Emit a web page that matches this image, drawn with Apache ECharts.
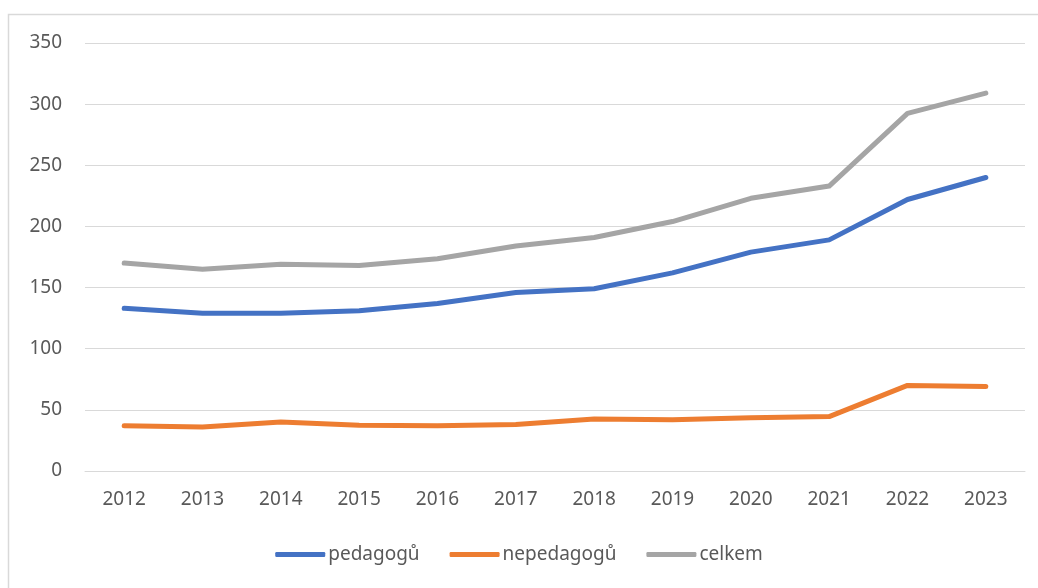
<!DOCTYPE html>
<html>
<head>
<meta charset="utf-8">
<script src="https://cdn.jsdelivr.net/npm/echarts@6/dist/echarts.min.js"></script>
<style>
  html, body { margin: 0; padding: 0; background: #fff; }
  #chart { width: 1038px; height: 588px; }
</style>
</head>
<body>
<div id="chart"></div>
<script>
// roky
var years = ['2012', '2013', '2014', '2015', '2016', '2017', '2018', '2019', '2020', '2021', '2022', '2023'];
// hodnoty
var pedagogu = [133, 129, 129, 131, 137, 146, 149, 162, 179, 189, 222, 240];
var nepedagogu = [37, 36, 40, 37.5, 37, 38, 42.5, 42, 43.5, 44.5, 70, 69];
var celkem = [170, 165, 169, 168, 173.5, 184, 191, 204, 223, 233, 292.5, 309];
var yTicks = { min: 0, max: 350, step: 50 };

var chart = echarts.init(document.getElementById('chart'));
var font = 'Noto Sans';
var txt = '#595959';

function line(name, data, color) {
    return {
        name: name,
        type: 'line',
        data: data,
        symbol: 'none',
        lineStyle: { width: 5, color: color, cap: 'round', join: 'round' },
        itemStyle: { color: color }
    };
}

var option = {
    animation: false,
    backgroundColor: '#fff',
    // rámeček grafu
    graphic: [{
        type: 'rect',
        shape: { x: 8.5, y: 14.5, width: 1100, height: 700 },
        style: { fill: 'none', stroke: '#d9d9d9', lineWidth: 1.5 }
    }],
    grid: { left: 85, right: 13, top: 43, bottom: 117 },
    legend: {
        bottom: 19,
        left: 'center',
        itemWidth: 50,
        itemHeight: 5,
        itemGap: 30,
        icon: 'roundRect',
        textStyle: { fontFamily: font, fontSize: 19, color: txt, padding: [0, 0, 0, -2] },
        data: ['pedagogů', 'nepedagogů', 'celkem']
    },
    xAxis: {
        type: 'category',
        data: years,
        boundaryGap: true,
        axisLine: { lineStyle: { color: '#d9d9d9', width: 1 } },
        axisTick: { show: false },
        axisLabel: { fontFamily: font, fontSize: 19, color: txt, margin: 19 }
    },
    yAxis: {
        type: 'value',
        min: yTicks.min,
        max: yTicks.max,
        interval: yTicks.step,
        axisLine: { show: false },
        axisTick: { show: false },
        splitLine: { lineStyle: { color: '#d9d9d9', width: 1 } },
        axisLabel: { fontFamily: font, fontSize: 19, color: txt, margin: 23 }
    },
    series: [
        line('pedagogů', pedagogu, '#4472C4'),
        line('nepedagogů', nepedagogu, '#ED7D31'),
        line('celkem', celkem, '#A5A5A5')
    ]
};

chart.setOption(option);
</script>
</body>
</html>
